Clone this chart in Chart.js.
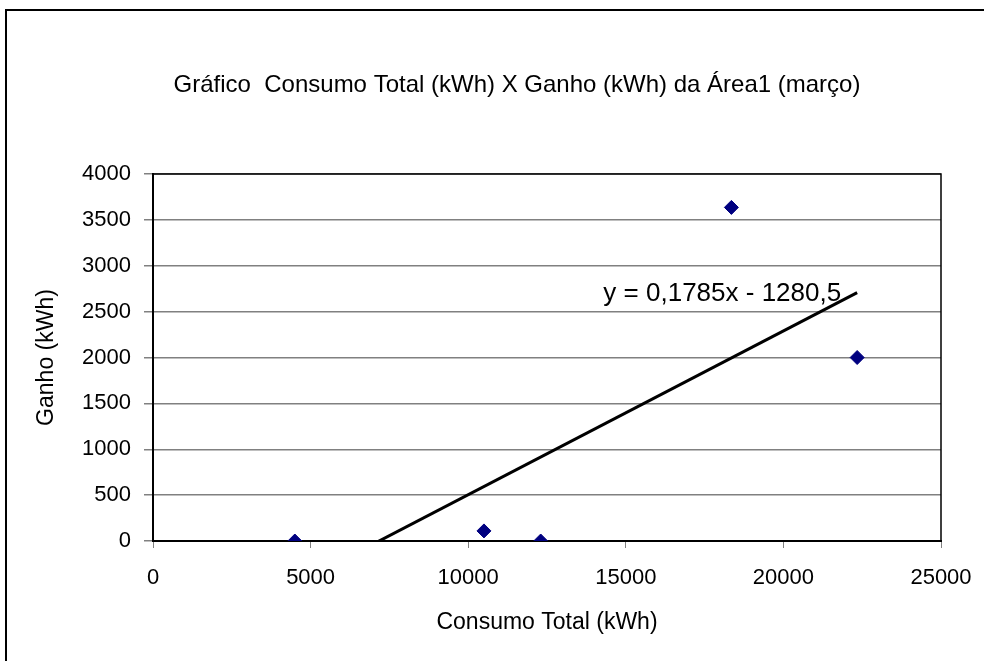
<!DOCTYPE html>
<html>
<head>
<meta charset="utf-8">
<script src="https://cdn.jsdelivr.net/npm/chart.js@4.4.1/dist/chart.umd.min.js"></script>
<style>
  html, body { margin: 0; padding: 0; background: #fff; }
  #wrap { width: 984px; height: 661px; }
</style>
</head>
<body>
<div id="wrap"><canvas id="chart"></canvas></div>
<script>
// dados
const consumo = [4500, 10500, 12300, 18350, 22340];
const ganho = [0, 110, 0, 3636, 2000];
const trendSlope = 0.1785;
const trendIntercept = -1280.5;
const trendLabel = 'y = 0,1785x - 1280,5';
const chartTitle = 'Gráfico  Consumo Total (kWh) X Ganho (kWh) da Área1 (março)';
const xTicks = [0, 5000, 10000, 15000, 20000, 25000];
const yTicks = [0, 500, 1000, 1500, 2000, 2500, 3000, 3500, 4000];

const points = consumo.map((x, i) => ({ x: x, y: ganho[i] }));
const xMin = Math.min(...consumo);
const xMax = Math.max(...consumo);
const trend = [
    { x: xMin, y: trendSlope * xMin + trendIntercept },
    { x: xMax, y: trendSlope * xMax + trendIntercept }
];

const FONT = '"Liberation Sans", Arial, sans-serif';

const frame = {
    id: 'frame',
    beforeDraw(chart) {
        const ctx = chart.ctx;
        ctx.save();
        ctx.fillStyle = '#fff';
        ctx.fillRect(0, 0, chart.width, chart.height);
        ctx.strokeStyle = '#000';
        ctx.lineWidth = 2;
        ctx.strokeRect(6, 10, chart.width + 10, chart.height + 10);
        // título
        ctx.fillStyle = '#000';
        ctx.font = '24px ' + FONT;
        ctx.textAlign = 'center';
        ctx.textBaseline = 'middle';
        ctx.fillText(chartTitle, 517, 85);
        ctx.restore();
    },
    afterDraw(chart) {
        const ctx = chart.ctx;
        const a = chart.chartArea;
        ctx.save();
        ctx.strokeStyle = '#000';
        ctx.lineWidth = 1.5;
        ctx.beginPath();
        ctx.moveTo(a.left, a.top);
        ctx.lineTo(a.right, a.top);
        ctx.lineTo(a.right, a.bottom);
        ctx.stroke();
        // rótulo da linha de tendência
        const sx = chart.scales.x, sy = chart.scales.y;
        const end = trend[trend.length - 1];
        ctx.fillStyle = '#000';
        ctx.font = '26px ' + FONT;
        ctx.textAlign = 'right';
        ctx.textBaseline = 'middle';
        ctx.fillText(trendLabel, sx.getPixelForValue(end.x) - 16, sy.getPixelForValue(end.y) + 1);
        ctx.restore();
    }
};

Chart.defaults.font.family = FONT;
Chart.defaults.color = '#000';

new Chart(document.getElementById('chart').getContext('2d'), {
    type: 'scatter',
    data: {
        datasets: [{
            label: 'Ganho',
            data: points,
            pointStyle: 'rectRot',
            pointRadius: 7,
            pointHoverRadius: 7,
            backgroundColor: '#000080',
            borderColor: '#000080',
            borderWidth: 1,
            order: 1
        }, {
            label: 'Tendência',
            data: trend,
            showLine: true,
            pointRadius: 0,
            borderColor: '#000',
            borderWidth: 3,
            fill: false,
            order: 2
        }]
    },
    options: {
        responsive: true,
        maintainAspectRatio: false,
        animation: false,
        layout: {
            padding: { left: 0, right: 43, top: 174, bottom: 0 }
        },
        scales: {
            x: {
                type: 'linear',
                min: 0,
                max: 25000,
                afterBuildTicks: (s) => { s.ticks = xTicks.map(v => ({ value: v })); },
                afterFit: (s) => {
                    s.height = 120;
                    s.paddingLeft = 0;
                    s.paddingRight = 0;
                },
                ticks: {
                    font: { size: 22 },
                    padding: 17,
                    maxRotation: 0,
                    callback: (v) => String(v)
                },
                grid: {
                    drawOnChartArea: false,
                    drawTicks: true,
                    tickLength: 7,
                    color: '#808080'
                },
                border: { color: '#000', width: 2 },
                title: {
                    display: true,
                    text: 'Consumo Total (kWh)',
                    font: { size: 23 },
                    padding: { top: 0, bottom: 25 }
                }
            },
            y: {
                min: 0,
                max: 4000,
                afterBuildTicks: (s) => { s.ticks = yTicks.map(v => ({ value: v })); },
                afterFit: (s) => {
                    s.width = 153;
                    s.paddingTop = 0;
                    s.paddingBottom = 0;
                },
                ticks: {
                    font: { size: 22 },
                    padding: 13,
                    callback: (v) => String(v)
                },
                grid: {
                    color: '#808080',
                    lineWidth: 1.5,
                    tickLength: 9
                },
                border: { color: '#000', width: 2 },
                title: {
                    display: true,
                    text: 'Ganho (kWh)',
                    font: { size: 23 },
                    padding: { top: 33, bottom: 0 }
                }
            }
        },
        plugins: {
            legend: { display: false },
            tooltip: { enabled: false },
            title: { display: false }
        }
    },
    plugins: [frame]
});
</script>
</body>
</html>
